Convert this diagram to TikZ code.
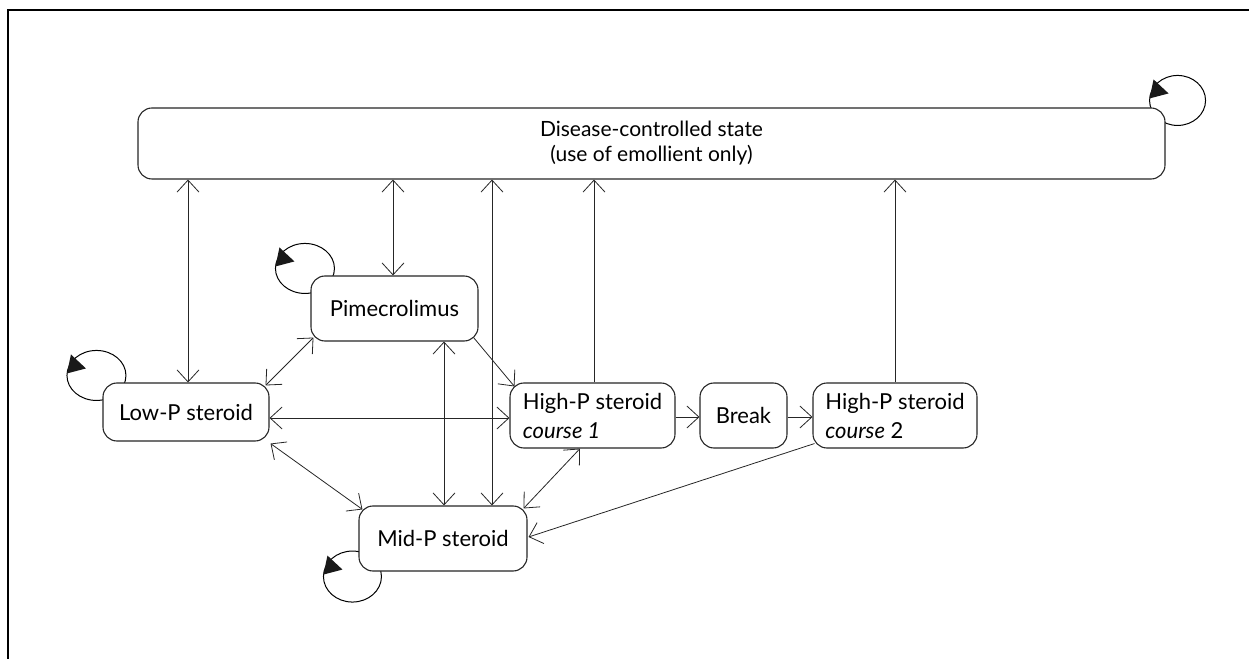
\documentclass[tikz,border=0pt]{standalone}
\usepackage{fontspec}
\setmainfont{Lato}
\usetikzlibrary{arrows.meta}
\pgfdeclarelayer{bg}
\pgfsetlayers{bg,main}
\begin{document}
\begin{tikzpicture}[x=1pt,y=1pt,
  >={Straight Barb[length=12pt,width=22pt]},
  state/.style={draw=black!85, line width=1.1pt, rounded corners=14pt, fill=white,
    inner sep=0pt, align=left, font=\fontsize{22}{29}\selectfont},
  link/.style={draw=black!85, line width=0.8pt},
  loopline/.style={draw=black, line width=1pt},
  loophead/.style={fill=black!90},
  frame/.style={draw=black, line width=1.5pt}]
\useasboundingbox (0,0) rectangle (1249,659);
\draw[frame] (1249,649) -- (8,649) -- (8,0);

% states
\node[state, minimum width=1027pt, minimum height=71pt, align=center,
  font=\fontsize{21}{25}\selectfont] (dis) at (651.5,515.5)
  {Disease-controlled state\\(use of emollient only)};
\node[state, minimum width=167pt, minimum height=65pt] (pim) at (394.5,350.5) {Pimecrolimus};
\node[state, minimum width=166pt, minimum height=58pt] (low) at (186,247) {Low-P steroid};
\node[state, minimum width=165pt, minimum height=65pt] (hi1) at (592.5,243.5)
  {High-P steroid\\\textit{course 1}};
\node[state, minimum width=87pt, minimum height=65pt] (brk) at (743.5,243.5) {Break};
\node[state, minimum width=164pt, minimum height=65pt] (hi2) at (895,243.5)
  {High-P steroid\\\textit{course} 2};
\node[state, minimum width=168pt, minimum height=65pt] (mid) at (443,120.5) {Mid-P steroid};

% self loops
\begin{pgfonlayer}{bg}
\draw[loopline] ([shift={(-5.5,7)}]pim.north west) coordinate (pc) ellipse [x radius=29.5, y radius=25];
\fill[loophead] ([xshift=-29.5]pc) ++(0,2) -- ++(4,19) -- ++(15,-14) -- cycle;
\draw[loopline] ([shift={(-6,7)}]low.north west) coordinate (lc) ellipse [x radius=29.5, y radius=25];
\fill[loophead] ([xshift=-29.5]lc) ++(0,2) -- ++(4,19) -- ++(15,-14) -- cycle;
\draw[loopline] ([shift={(-6,-5)}]mid.south west) coordinate (mc) ellipse [x radius=29, y radius=25.5];
\fill[loophead] ([xshift=-29]mc) ++(0,2) -- ++(4,19) -- ++(15,-14) -- cycle;
\draw[loopline] ([shift={(12,7)}]dis.north east) coordinate (dc) ellipse [x radius=28, y radius=25];
\fill[loophead] ([xshift=-28]dc) ++(0,2) -- ++(4,19) -- ++(15,-14) -- cycle;
\end{pgfonlayer}

% transitions to and from the controlled state
\draw[link,<->] ([xshift=2]low.north) -- ([xshift=2]low.north |- dis.south);
\draw[link,<->] ([xshift=-1.5]pim.north) -- ([xshift=-1.5]pim.north |- dis.south);
\draw[link,<->] ([xshift=49]mid.north) -- ([xshift=49]mid.north |- dis.south);
\draw[link,->] ([xshift=1.5]hi1.north) -- ([xshift=1.5]hi1.north |- dis.south);
\draw[link,->] (hi2.north) -- (hi2.north |- dis.south);

% transitions between treatments
\draw[link,<->] ([shift={(3,4)}]pim.south west) -- ([shift={(-4,-3)}]low.north east);
\draw[link,->] ([shift={(-5,4)}]pim.south east) -- ([shift={(5,-4)}]hi1.north west);
\draw[link,<->] ([xshift=49.5]pim.south) -- ([xshift=49.5]pim.south |- mid.north);
\draw[link,<->] ([yshift=-6]low.east) -- ([yshift=-6]low.east -| hi1.west);
\draw[link,<->] ([shift={(1,-2)}]low.south east) -- ([shift={(4,-4)}]mid.north west);
\draw[link,<->] ([xshift=-12.5]hi1.south) -- ([shift={(-4,-3)}]mid.north east);
\draw[link,->] ([yshift=-1.5]hi1.east) -- ([yshift=-1.5]hi1.east -| brk.west);
\draw[link,->] ([yshift=-1.5]brk.east) -- ([yshift=-1.5]brk.east -| hi2.west);
\draw[link,->] ([shift={(2,5)}]hi2.south west) -- ([shift={(1,1.5)}]mid.east);
\end{tikzpicture}
\end{document}
